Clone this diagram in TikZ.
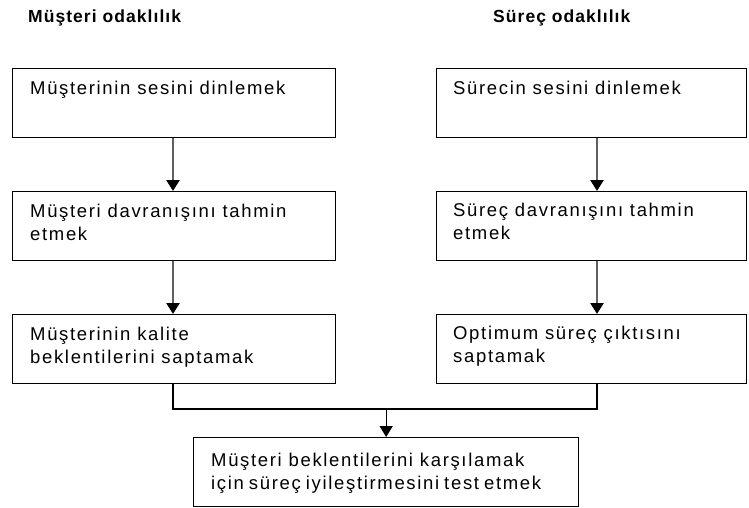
\documentclass[tikz,border=0pt]{standalone}
\usepackage{fontspec}
\usetikzlibrary{arrows.meta,calc}
\newfontfamily\boxfont{Liberation Sans}[LetterSpace=9]
\newfontfamily\headfont{Liberation Sans}[LetterSpace=6]

\tikzset{
  stepbox/.style={draw=black, line width=1.3pt, rectangle, inner sep=0pt,
    anchor=north west, minimum width=#1, minimum height=69pt},
  stepbox/.default=323pt,
  steptext/.style={anchor=base west, inner sep=0pt, font=\boxfont\fontsize{18.5}{23.5}\selectfont},
  headtext/.style={anchor=base west, inner sep=0pt, font=\headfont\bfseries\fontsize{17.5}{20}\selectfont},
  flow/.style={draw=gray!75!black, line width=2.6pt,
    -{Triangle[width=13pt,length=11pt,color=black]}},
  mergeline/.style={draw=black, line width=1.3pt},
  mergearrow/.style={draw=black, line width=1.3pt,
    -{Triangle[width=13pt,length=11pt,color=black]}}
}
\newcommand{\lines}[1]{\parbox[t]{330pt}{\baselineskip=23.5pt #1}}

\begin{document}
\begin{tikzpicture}[x=1pt,y=-1pt]
\useasboundingbox[fill=white] (0,0) rectangle (749,508);

% column headings
\node[headtext] (hleft)  at (28,23)  {Müşteri odaklılık};
\node[headtext] (hright) at (493,23) {Süreç odaklılık};

% customer column
\node[stepbox] (c1) at (12,68)  {};
\node[stepbox] (c2) at (12,191) {};
\node[stepbox] (c3) at (12,314) {};
% process column
\node[stepbox=310pt] (p1) at (436,68)  {};
\node[stepbox=310pt] (p2) at (436,191) {};
\node[stepbox=310pt] (p3) at (436,314) {};
% combined step
\node[stepbox=385pt] (t) at (193,437) {};

% box texts
\node[steptext] (c1t) at ($(c1.north west)+(18,27)$) {\lines{Müşterinin sesini dinlemek}};
\node[steptext] (c2t) at ($(c2.north west)+(18,26)$) {\lines{Müşteri davranışını tahmin\\etmek}};
\node[steptext] (c3t) at ($(c3.north west)+(18,26)$) {\lines{Müşterinin kalite\\beklentilerini saptamak}};
\node[steptext] (p1t) at ($(p1.north west)+(17,27)$) {\lines{Sürecin sesini dinlemek}};
\node[steptext] (p2t) at ($(p2.north west)+(17,25)$) {\lines{Süreç davranışını tahmin\\etmek}};
\node[steptext] (p3t) at ($(p3.north west)+(17,25)$) {\lines{Optimum süreç çıktısını\\saptamak}};
\node[steptext] (tt)  at ($(t.north west)+(18,29)$)  {\lines{Müşteri beklentilerini karşılamak\\için süreç iyileştirmesini test etmek}};

% vertical flow within each column
\coordinate (cx) at (173,0);
\coordinate (px) at (597,0);
\draw[flow] (c1.south -| cx) -- (c2.north -| cx);
\draw[flow] (c2.south -| cx) -- (c3.north -| cx);
\draw[flow] (p1.south -| px) -- (p2.north -| px);
\draw[flow] (p2.south -| px) -- (p3.north -| px);

% merging both columns into the combined step
\coordinate (jl) at (173,409);
\coordinate (jr) at (597,409);
\coordinate (jm) at (t.north |- jl);
\draw[mergeline] (c3.south -| cx) -- (jl) -- (jr) -- (p3.south -| px);
\draw[mergearrow] (jm) -- (t.north);
\end{tikzpicture}
\end{document}
